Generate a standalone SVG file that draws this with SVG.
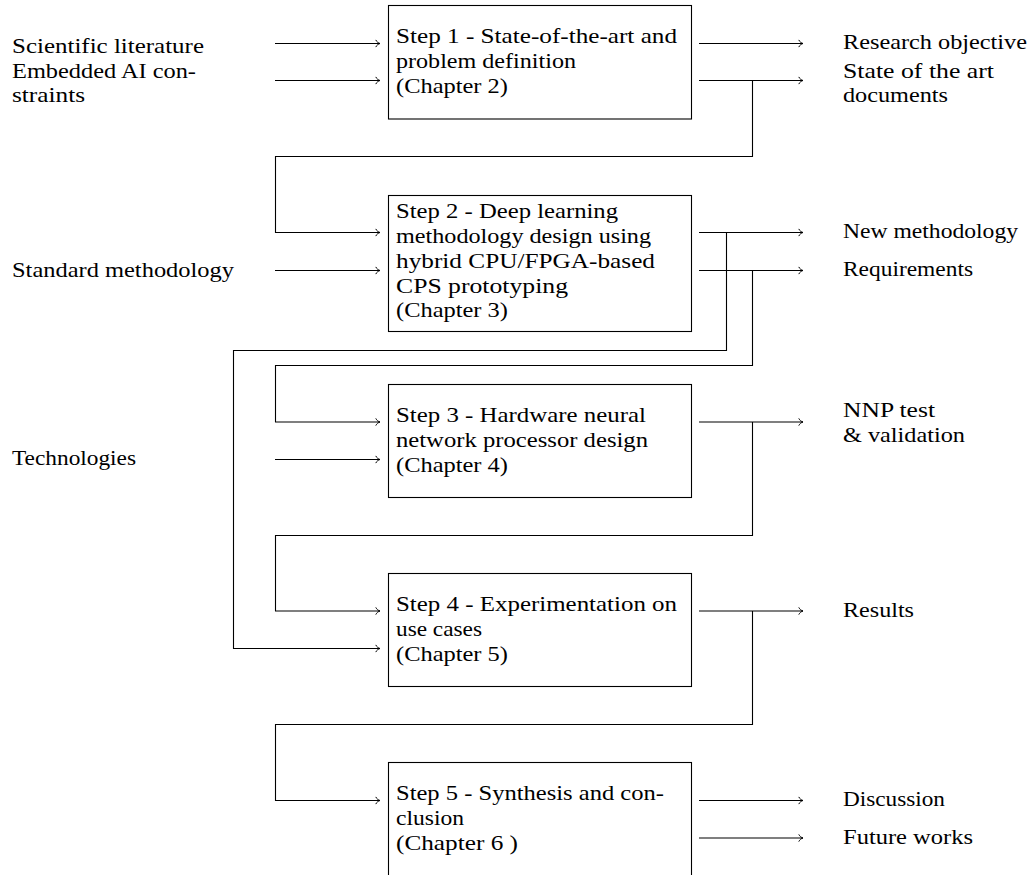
<svg xmlns="http://www.w3.org/2000/svg" width="1029" height="875" viewBox="0 0 1029 875" font-family="'Liberation Serif', 'Times New Roman', 'DejaVu Serif', serif">
  <style>
    text { font-family: 'Liberation Serif', 'Times New Roman', 'DejaVu Serif', serif; font-size: 21.5px; fill: #000; }
    .box { fill: #fff; stroke: #000; stroke-width: 1.1; }
    .arrow { fill: none; stroke: #000; stroke-width: 1.1; marker-end: url(#tip); }
  </style>
  <defs>
    <!-- small curved "to" style arrow tip -->
    <marker id="tip" viewBox="-6 -5 8 10" markerWidth="8" markerHeight="10" refX="0" refY="0" orient="auto" markerUnits="userSpaceOnUse">
      <path d="M -4.2 -3.6 C -3.4 -1.6 -1.4 -0.4 0 0 C -1.4 0.4 -3.4 1.6 -4.2 3.6" fill="none" stroke="#000" stroke-width="1"/>
    </marker>
  </defs>

  <rect width="1029" height="875" fill="#fff"/>

  <!-- connectors -->
  <g id="connectors">
    <!-- inputs -->
    <path class="arrow" d="M275 43.5 H380"/>
    <path class="arrow" d="M275 80.5 H380"/>
    <path class="arrow" d="M275 270.5 H380"/>
    <path class="arrow" d="M275 459.5 H380"/>
    <!-- outputs -->
    <path class="arrow" d="M699 43.5 H803"/>
    <path class="arrow" d="M699 80.5 H803"/>
    <path class="arrow" d="M699 232.5 H803"/>
    <path class="arrow" d="M699 270.5 H803"/>
    <path class="arrow" d="M699 422 H803"/>
    <path class="arrow" d="M699 611 H803"/>
    <path class="arrow" d="M699 800.5 H803"/>
    <path class="arrow" d="M699 838 H803"/>
    <!-- step 1 -> step 2 -->
    <path class="arrow" d="M752.5 80.5 V156.5 H275.5 V232.5 H380"/>
    <!-- step 2 -> step 4 -->
    <path class="arrow" d="M726.5 232.5 V350.5 H233.5 V648.5 H380"/>
    <!-- step 2 -> step 3 -->
    <path class="arrow" d="M752.5 270.5 V365.5 H275.5 V422 H380"/>
    <!-- step 3 -> step 4 -->
    <path class="arrow" d="M752.5 422 V535.5 H275.5 V611 H380"/>
    <!-- step 4 -> step 5 -->
    <path class="arrow" d="M752.5 611 V724.5 H275.5 V800.5 H380"/>
  </g>

  <!-- input labels -->
  <g id="in-literature">
    <text x="12" y="53" textLength="192" lengthAdjust="spacingAndGlyphs">Scientific literature</text>
    <text x="12" y="77.5" textLength="184" lengthAdjust="spacingAndGlyphs">Embedded AI con-</text>
    <text x="12" y="102" textLength="73" lengthAdjust="spacingAndGlyphs">straints</text>
  </g>
  <g id="in-methodology">
    <text x="12" y="276.5" textLength="222" lengthAdjust="spacingAndGlyphs">Standard methodology</text>
  </g>
  <g id="in-technologies">
    <text x="12" y="465" textLength="124" lengthAdjust="spacingAndGlyphs">Technologies</text>
  </g>

  <!-- steps -->
  <g id="step1">
    <rect class="box" x="388.5" y="5.5" width="303" height="113.5"/>
    <text x="396" y="43" textLength="281" lengthAdjust="spacingAndGlyphs">Step 1 - State-of-the-art and</text>
    <text x="396" y="68" textLength="180" lengthAdjust="spacingAndGlyphs">problem definition</text>
    <text x="396" y="93" textLength="112" lengthAdjust="spacingAndGlyphs">(Chapter 2)</text>
  </g>
  <g id="step2">
    <rect class="box" x="388.5" y="195.5" width="303" height="136"/>
    <text x="396" y="218" textLength="222" lengthAdjust="spacingAndGlyphs">Step 2 - Deep learning</text>
    <text x="396" y="243" textLength="255" lengthAdjust="spacingAndGlyphs">methodology design using</text>
    <text x="396" y="268" textLength="259" lengthAdjust="spacingAndGlyphs">hybrid CPU/FPGA-based</text>
    <text x="396" y="292.5" textLength="172" lengthAdjust="spacingAndGlyphs">CPS prototyping</text>
    <text x="396" y="317" textLength="112" lengthAdjust="spacingAndGlyphs">(Chapter 3)</text>
  </g>
  <g id="step3">
    <rect class="box" x="388.5" y="384.5" width="303" height="113"/>
    <text x="396" y="421.5" textLength="250" lengthAdjust="spacingAndGlyphs">Step 3 - Hardware neural</text>
    <text x="396" y="446.5" textLength="252" lengthAdjust="spacingAndGlyphs">network processor design</text>
    <text x="396" y="471.5" textLength="112" lengthAdjust="spacingAndGlyphs">(Chapter 4)</text>
  </g>
  <g id="step4">
    <rect class="box" x="388.5" y="573.5" width="303" height="113"/>
    <text x="396" y="610.5" textLength="281" lengthAdjust="spacingAndGlyphs">Step 4 - Experimentation on</text>
    <text x="396" y="635.5" textLength="86" lengthAdjust="spacingAndGlyphs">use cases</text>
    <text x="396" y="660.5" textLength="112" lengthAdjust="spacingAndGlyphs">(Chapter 5)</text>
  </g>
  <g id="step5">
    <rect class="box" x="388.5" y="762.5" width="303" height="120"/>
    <text x="396" y="799.5" textLength="268" lengthAdjust="spacingAndGlyphs">Step 5 - Synthesis and con-</text>
    <text x="396" y="824.5" textLength="68" lengthAdjust="spacingAndGlyphs">clusion</text>
    <text x="396" y="849.5" textLength="122" lengthAdjust="spacingAndGlyphs">(Chapter 6 )</text>
  </g>

  <!-- output labels -->
  <g id="out-objective">
    <text x="843" y="49" textLength="184" lengthAdjust="spacingAndGlyphs">Research objective</text>
  </g>
  <g id="out-sota">
    <text x="843" y="77.5" textLength="151" lengthAdjust="spacingAndGlyphs">State of the art</text>
    <text x="843" y="102" textLength="105" lengthAdjust="spacingAndGlyphs">documents</text>
  </g>
  <g id="out-new-methodology">
    <text x="843" y="238" textLength="175" lengthAdjust="spacingAndGlyphs">New methodology</text>
  </g>
  <g id="out-requirements">
    <text x="843" y="276" textLength="130" lengthAdjust="spacingAndGlyphs">Requirements</text>
  </g>
  <g id="out-nnp">
    <text x="843" y="417" textLength="92" lengthAdjust="spacingAndGlyphs">NNP test</text>
    <text x="843" y="442" textLength="122" lengthAdjust="spacingAndGlyphs">&amp; validation</text>
  </g>
  <g id="out-results">
    <text x="843" y="617" textLength="71" lengthAdjust="spacingAndGlyphs">Results</text>
  </g>
  <g id="out-discussion">
    <text x="843" y="806" textLength="102" lengthAdjust="spacingAndGlyphs">Discussion</text>
  </g>
  <g id="out-future">
    <text x="843" y="844" textLength="130" lengthAdjust="spacingAndGlyphs">Future works</text>
  </g>
</svg>
